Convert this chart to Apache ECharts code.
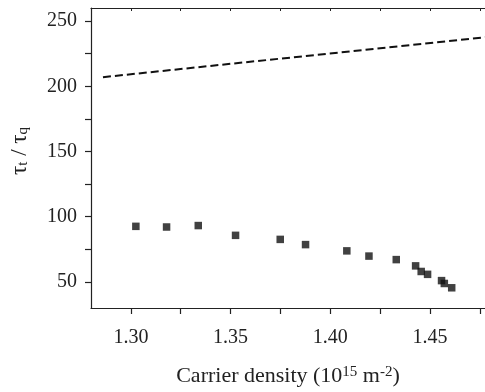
<!DOCTYPE html>
<html>
<head>
<meta charset="utf-8">
<script src="https://cdn.jsdelivr.net/npm/echarts@6/dist/echarts.min.js"></script>
<style>
  html, body { margin: 0; padding: 0; background: #fff; }
  #chart { width: 485px; height: 392px; }
</style>
</head>
<body>
<div id="chart"></div>
<script>
// measured points (carrier density, tau_t / tau_q)
const densityPts = [1.3025, 1.3179, 1.3338, 1.3525, 1.3749, 1.3876, 1.4083, 1.4194,
  1.4331, 1.4428, 1.4456, 1.4488, 1.4558, 1.4572, 1.4609];
const ratioPts = [92.6, 92.1, 93.2, 85.7, 82.6, 78.6, 73.8, 69.8,
  67.1, 62.3, 58.0, 55.8, 51.0, 48.8, 45.5];

// dashed theory line end points
const theoryX = [1.286, 1.478];
const theoryY = [207, 237.6];

// ticks
const xLabels = [1.30, 1.35, 1.40, 1.45];
const xTicks = [1.30, 1.325, 1.35, 1.375, 1.40, 1.425, 1.45, 1.475];
const yLabels = [50, 100, 150, 200, 250];
const yTicks = [50, 75, 100, 125, 150, 175, 200, 225, 250];

const font = "Liberation Serif";
const ink = "#222";

const chart = echarts.init(document.getElementById("chart"));

const scatterData = densityPts.map((x, i) => [x, ratioPts[i]]);
const lineData = theoryX.map((x, i) => [x, theoryY[i]]);

chart.setOption({
  animation: false,
  grid: { left: 91, top: 8, right: 0, bottom: 79 },
  xAxis: [
    {
      type: "value",
      min: 1.28,
      max: 1.4776,
      position: "bottom",
      axisLine: { show: true, lineStyle: { color: ink, width: 1.2 } },
      axisTick: { show: true, inside: false, length: 6, customValues: xTicks, lineStyle: { color: ink, width: 1.2 } },
      axisLabel: {
        customValues: xLabels,
        margin: 20,
        fontFamily: font,
        fontSize: 20,
        color: ink,
        formatter: (v) => v.toFixed(2),
      },
      splitLine: { show: false },
      name: "Carrier density (10{sup|15} m{sup|-2})",
      nameLocation: "middle",
      nameGap: 57,
      nameTextStyle: {
        fontFamily: font,
        fontSize: 22,
        color: ink,
        rich: {
          sup: { fontFamily: font, fontSize: 15, color: ink, verticalAlign: "top", lineHeight: 14 },
        },
      },
    },
    {
      type: "value",
      min: 1.28,
      max: 1.4776,
      position: "top",
      axisLine: { show: true, lineStyle: { color: ink, width: 1.2 } },
      axisTick: { show: true, inside: true, length: 3, customValues: xTicks, lineStyle: { color: ink, width: 1 } },
      axisLabel: { show: false },
      splitLine: { show: false },
    },
  ],
  yAxis: {
    type: "value",
    min: 30,
    max: 260,
    axisLine: { show: true, lineStyle: { color: ink, width: 1.2 } },
    axisTick: { show: true, inside: false, length: 6, customValues: yTicks, lineStyle: { color: ink, width: 1.2 } },
    axisLabel: {
      customValues: yLabels,
      margin: 14,
      fontFamily: font,
      fontSize: 20,
      color: ink,
    },
    splitLine: { show: false },
    name: "τ{sub|t} / τ{sub|q}",
    nameLocation: "middle",
    nameGap: 60,
    nameTextStyle: {
      fontFamily: font,
      fontSize: 23,
      color: ink,
      padding: [0, 0, 0, 14],
      rich: {
        sub: { fontFamily: font, fontSize: 15, color: ink, verticalAlign: "bottom", lineHeight: 14 },
      },
    },
  },
  series: [
    {
      type: "line",
      data: lineData,
      symbol: "none",
      silent: true,
      clip: true,
      lineStyle: { color: "#111", width: 2, type: [8, 4] },
    },
    {
      type: "scatter",
      data: scatterData,
      symbol: "rect",
      symbolSize: 7.5,
      itemStyle: { color: "#111" },
    },
  ],
});
</script>
</body>
</html>
